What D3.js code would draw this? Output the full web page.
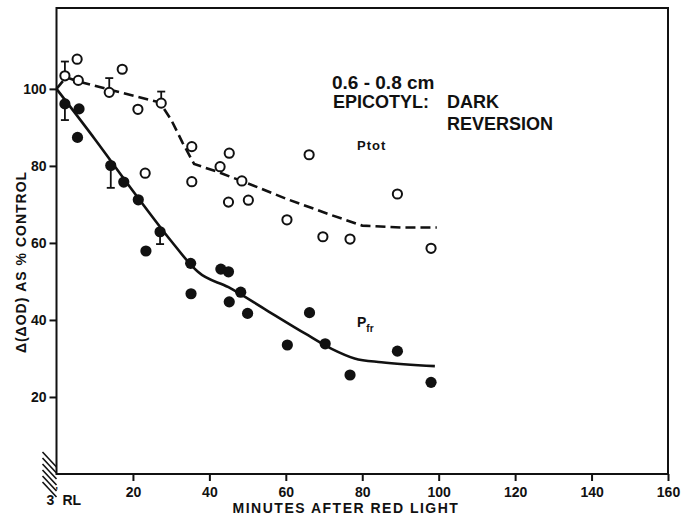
<html>
<head>
<script src="https://d3js.org/d3.v7.min.js"></script>
<style>
body { margin: 0; background: #fff; }
svg text { font-family: "Liberation Sans", Arial, sans-serif; font-weight: bold; fill: #111; }
.axis path, .axis line { stroke: #111; stroke-width: 2; }
.axis text { font-size: 14px; }
</style>
</head>
<body>
<svg width="693" height="520"></svg>
<script>
// values: [minutes, % of control]
var ptotPoints = [[2.2,103.4],[5.4,107.7],[5.7,102.2],[13.8,99.1],[17.2,105.1],[21.3,94.7],
  [23.2,78.1],[27.4,96.3],[35.4,85],[35.4,75.9],[42.8,79.8],[45.2,83.3],[45,70.6],
  [48.5,76.1],[50.2,71.1],[60.3,66],[66.1,82.9],[69.7,61.6],[76.8,61],[89.2,72.7],[98,58.6]];
var pfrPoints = [[2.2,96.1],[5.5,87.4],[5.9,94.8],[14.2,80.1],[17.6,75.8],[21.4,71.2],
  [23.4,57.9],[27.1,62.9],[35.1,54.7],[35.2,46.8],[43,53.2],[45,52.5],[45.2,44.7],
  [48.2,47.2],[50,41.7],[60.4,33.5],[66.2,41.9],[70.3,33.8],[76.8,25.7],[89.2,31.9],[98,23.8]];
// hand drawn curves
var ptotCurve = [[0,100],[2.5,103],[5.5,102],[15,99.5],[27,96.5],[30,92],[33,86],[36,80.5],
  [42,78.5],[50,75.5],[60,71.5],[72,67.2],[80,64.5],[90,64],[99.5,64]];
var pfrCurve = [[0,100],[10,87],[20,73.5],[30,60.5],[35,54.5],[37,52.5],[45,48.5],[55,42.5],
  [65,36.5],[72,32.5],[78,30],[85,29],[99,28]];
// error bars: [minutes, mean, end of bar]
var ptotErr = [[2.2,103.4,107.1],[13.8,99.1,102.8],[27.4,96.3,99.3]];
var pfrErr = [[2.2,96.1,91.9],[14.2,80.1,74.3],[27.1,62.9,59.7]];
var xTicks = [20,40,60,80,100,120,140,160];
var yTicks = [20,40,60,80,100];

var svg = d3.select("svg"),
    margin = {top: 8, left: 56.5},
    width = 611.5,
    height = 466;

var x = d3.scaleLinear().domain([0,160]).range([0,width]),
    y = d3.scaleLinear().domain([0,121]).range([height,0]);

var g = svg.append("g").attr("transform","translate("+margin.left+","+margin.top+")");

// frame
g.append("rect").attr("width",width).attr("height",height)
  .attr("fill","none").attr("stroke","#111").attr("stroke-width",2);

g.append("g").attr("class","axis")
  .attr("transform","translate(0,"+height+")")
  .call(d3.axisBottom(x).tickValues(xTicks).tickSize(7).tickPadding(6).tickSizeOuter(0))
  .call(function(s){ s.select(".domain").remove(); });

g.append("g").attr("class","axis")
  .call(d3.axisLeft(y).tickValues(yTicks).tickSize(7).tickPadding(3).tickSizeOuter(0))
  .call(function(s){ s.select(".domain").remove(); });

// axis break hatch below origin
var bx = x(0), by = y(0);
for (var i = 0; i < 6; i++) {
  var oy = -20 + i*6;
  g.append("line")
    .attr("x1", bx-14).attr("y1", by+oy-2)
    .attr("x2", bx).attr("y2", by+oy+13)
    .attr("stroke","#111").attr("stroke-width",1.6);
}
g.append("text").attr("x", bx-10).attr("y", by+31).style("font-size","14px").text("3");
g.append("text").attr("x", bx-1).attr("y", by+21).style("font-size","10px").text("'");
g.append("text").attr("x", bx+6).attr("y", by+31).style("font-size","14px").text("RL");

var dashLine = d3.line()
  .x(function(d){ return x(d[0]); })
  .y(function(d){ return y(d[1]); });
var solidLine = d3.line().curve(d3.curveMonotoneX)
  .x(function(d){ return x(d[0]); })
  .y(function(d){ return y(d[1]); });

g.append("path").datum(ptotCurve).attr("d",dashLine)
  .attr("fill","none").attr("stroke","#111").attr("stroke-width",2.6)
  .attr("stroke-dasharray","10,5");
g.append("path").datum(pfrCurve).attr("d",solidLine)
  .attr("fill","none").attr("stroke","#111").attr("stroke-width",2.6);

// error bars
function errBars(data) {
  var e = g.append("g").selectAll("g").data(data).enter().append("g");
  e.append("line")
    .attr("x1",function(d){return x(d[0]);}).attr("x2",function(d){return x(d[0]);})
    .attr("y1",function(d){return y(d[1]);}).attr("y2",function(d){return y(d[2]);})
    .attr("stroke","#111").attr("stroke-width",1.8);
  e.append("line")
    .attr("x1",function(d){return x(d[0])-4;}).attr("x2",function(d){return x(d[0])+4;})
    .attr("y1",function(d){return y(d[2]);}).attr("y2",function(d){return y(d[2]);})
    .attr("stroke","#111").attr("stroke-width",1.8);
}
errBars(ptotErr);
errBars(pfrErr);

g.append("g").selectAll("circle").data(ptotPoints).enter().append("circle")
  .attr("cx",function(d){return x(d[0]);}).attr("cy",function(d){return y(d[1]);})
  .attr("r",4.6).attr("fill","#fff").attr("stroke","#111").attr("stroke-width",2);

g.append("g").selectAll("circle").data(pfrPoints).enter().append("circle")
  .attr("cx",function(d){return x(d[0]);}).attr("cy",function(d){return y(d[1]);})
  .attr("r",5.6).attr("fill","#111");

// labels
svg.append("text").attr("x",332).attr("y",89).style("font-size","19px").text("0.6 - 0.8 cm");
svg.append("text").attr("x",333).attr("y",108).style("font-size","18px").text("EPICOTYL:");
svg.append("text").attr("x",447).attr("y",108).style("font-size","18px").text("DARK");
svg.append("text").attr("x",447).attr("y",130).style("font-size","18px").text("REVERSION");

svg.append("text").attr("x",357).attr("y",150).style("font-size","13px")
  .style("letter-spacing","1px").text("Ptot");
var pfr = svg.append("text").attr("x",357).attr("y",327).style("font-size","14px");
pfr.append("tspan").text("P");
pfr.append("tspan").attr("dy",5).style("font-size","10px").text("fr");

svg.append("text").attr("x",346).attr("y",513).attr("text-anchor","middle")
  .style("font-size","14px").style("letter-spacing","1.5px")
  .text("MINUTES  AFTER  RED  LIGHT");

svg.append("text").attr("transform","translate(26,262) rotate(-90)")
  .attr("text-anchor","middle").style("font-size","14px").style("letter-spacing","1px")
  .text("\u0394(\u0394OD)  AS  %  CONTROL");
</script>
</body>
</html>
